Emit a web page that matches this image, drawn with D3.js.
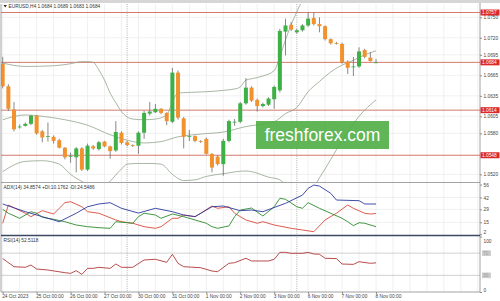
<!DOCTYPE html>
<html>
<head>
<meta charset="utf-8">
<script src="https://cdn.jsdelivr.net/npm/d3@7"></script>
<style>
  html, body { margin: 0; padding: 0; background: #fff; }
  svg { display: block; font-family: "Liberation Sans", Arial, sans-serif; }
</style>
</head>
<body>
<div id="chart"></div>
<script>
// EURUSD H4 candles, 24 Oct 00:00 .. 8 Nov 00:00
const candleOpen = [1.0682,1.0649,1.0615,1.0589,1.0591,1.0594,1.0606,1.0583,1.0575,1.0575,
  1.0570,1.0559,1.0546,1.0545,1.0558,1.0527,1.0561,1.0557,1.0568,1.0561,
  1.0555,1.0581,1.0567,1.0563,1.0562,1.0581,1.0609,1.0611,1.0616,1.0610,
  1.0597,1.0669,1.0602,1.0575,1.0576,1.0569,1.0572,1.0550,1.0546,1.0535,
  1.0569,1.0596,1.0597,1.0624,1.0647,1.0629,1.0620,1.0622,1.0630,1.0643,
  1.0729,1.0739,1.0728,1.0731,1.0738,1.0749,1.0740,1.0737,1.0718,1.0712,
  1.0711,1.0685,1.0677,1.0678,1.0702,1.0691,1.0684];
const candleHigh = [1.0692,1.0652,1.0626,1.0593,1.0596,1.0607,1.0607,1.0585,1.0596,1.0577,
  1.0572,1.0560,1.0552,1.0560,1.0560,1.0565,1.0563,1.0569,1.0569,1.0562,
  1.0598,1.0583,1.0569,1.0564,1.0583,1.0613,1.0626,1.0623,1.0617,1.0611,
  1.0676,1.0672,1.0604,1.0585,1.0577,1.0570,1.0574,1.0551,1.0548,1.0572,
  1.0600,1.0601,1.0626,1.0661,1.0649,1.0631,1.0625,1.0633,1.0650,1.0733,
  1.0748,1.0743,1.0733,1.0740,1.0757,1.0757,1.0750,1.0738,1.0719,1.0714,
  1.0713,1.0687,1.0692,1.0706,1.0704,1.0699,1.0689];
const candleLow = [1.0646,1.0613,1.0583,1.0587,1.0590,1.0592,1.0578,1.0567,1.0568,1.0565,
  1.0558,1.0542,1.0537,1.0523,1.0525,1.0525,1.0556,1.0555,1.0560,1.0543,
  1.0553,1.0564,1.0561,1.0560,1.0550,1.0572,1.0606,1.0610,1.0608,1.0592,
  1.0595,1.0600,1.0558,1.0569,1.0567,1.0566,1.0549,1.0523,1.0533,1.0518,
  1.0567,1.0591,1.0595,1.0622,1.0626,1.0612,1.0618,1.0620,1.0616,1.0640,
  1.0694,1.0730,1.0726,1.0729,1.0736,1.0738,1.0728,1.0716,1.0710,1.0710,
  1.0682,1.0667,1.0664,1.0676,1.0690,1.0685,1.0683];
const candleClose = [1.0649,1.0616,1.0586,1.0590,1.0594,1.0606,1.0580,1.0574,1.0576,1.0569,
  1.0559,1.0545,1.0547,1.0558,1.0527,1.0562,1.0558,1.0567,1.0561,1.0554,
  1.0582,1.0566,1.0563,1.0562,1.0581,1.0610,1.0612,1.0616,1.0610,1.0598,
  1.0669,1.0603,1.0575,1.0576,1.0569,1.0568,1.0550,1.0530,1.0535,1.0569,
  1.0598,1.0597,1.0624,1.0647,1.0628,1.0620,1.0623,1.0631,1.0648,1.0730,
  1.0738,1.0732,1.0731,1.0738,1.0748,1.0740,1.0737,1.0718,1.0712,1.0711,
  1.0684,1.0676,1.0678,1.0700,1.0692,1.0686,1.0684];

// Bollinger bands, read at [bar index, price]
const bbUpper = [[0,1.0683],[4,1.0678],[9,1.0679],[12,1.0682],[14,1.0685],[15,1.0685],[16,1.0684],
  [17,1.0673],[18,1.0658],[19,1.0639],[20,1.0625],[21,1.0612],[22,1.0604],[23,1.0601],[25,1.0600],
  [27,1.0601],[29,1.0607],[30,1.0626],[31,1.0639],[33,1.0640],[36,1.0641],[39,1.0643],[41,1.0645],
  [42,1.0648],[43,1.0658],[44,1.0660],[46,1.0664],[48,1.0672],[49,1.0692],[50,1.0717],[51,1.0739],
  [52,1.0758],[53,1.0775],[54,1.0787],[57,1.0793],[60,1.0790],[63,1.0784],[66,1.0778]];
const bbMiddle = [[0,1.0600],[4,1.0607],[7,1.0605],[11,1.0600],[15,1.0592],[19,1.0578],[22,1.0570],
  [25,1.0566],[28,1.0568],[31,1.0575],[35,1.0579],[39,1.0582],[43,1.0590],[48,1.0597],[50,1.0609],
  [52,1.0618],[54,1.0641],[56,1.0656],[58,1.0670],[60,1.0680],[62,1.0687],[64,1.0695],[66,1.0701]];
const bbLower = [[0,1.0524],[4,1.0539],[7,1.0540],[10,1.0535],[12,1.0520],[15,1.0505],[17,1.0495],
  [19,1.0510],[21,1.0528],[22,1.0535],[24,1.0536],[26,1.0536],[28,1.0535],[30,1.0520],[32,1.0511],
  [34,1.0512],[36,1.0517],[39,1.0521],[43,1.0525],[44,1.0524],[47,1.0516],[49,1.0512],[51,1.0496],
  [53,1.0480],[55,1.0500],[56,1.0515],[57,1.0528],[59,1.0556],[61,1.0582],[63,1.0605],[66,1.0629]];

// ADX(14) lines
const adxMain = [[0,34.9],[4,26.5],[7,21.1],[9,17.5],[10,15.6],[13,24.8],[15,31.9],[17,34.9],[19,36.3],
  [21,30.2],[24,25.0],[27,30.2],[30,26.5],[32,22.9],[34,21.1],[37,31.9],[39,32.7],[42,27.6],[44,28.3],
  [46,26.5],[50,35.6],[53,44.6],[54,51.9],[55,55.5],[56,54.4],[58,46.5],[59,39.2],[63,38.5],[64,34.9],[66,34.86]];
const plusDi = [[0,29.1],[1,24.8],[3,19.3],[5,26.5],[6,24.8],[7,20.4],[9,18.2],[11,15.6],[13,12.0],
  [15,10.2],[17,9.1],[19,8.4],[20,15.6],[22,14.5],[23,13.9],[24,21.1],[25,24.8],[27,22.9],[28,19.3],
  [30,24.0],[32,21.1],[34,17.5],[36,13.9],[37,10.2],[38,8.4],[40,11.0],[41,21.1],[42,28.3],[44,30.5],
  [46,21.8],[48,31.9],[49,41.1],[50,40.0],[52,31.9],[53,30.2],[54,36.3],[56,30.2],[58,24.8],[60,19.3],
  [61,15.6],[62,11.3],[63,14.5],[64,13.9],[66,10.18]];
const minusDi = [[0,13.9],[1,33.8],[4,24.8],[5,21.1],[7,27.6],[9,24.0],[10,30.2],[11,36.3],[12,37.4],
  [14,31.9],[15,26.5],[17,24.8],[20,17.5],[21,15.6],[23,13.9],[25,10.2],[27,8.4],[28,10.2],[30,19.3],
  [31,19.3],[32,22.9],[34,21.1],[35,24.8],[37,32.7],[38,30.2],[40,31.9],[41,24.8],[42,21.1],[43,17.5],
  [45,13.9],[46,15.6],[48,12.0],[51,8.4],[53,6.6],[55,4.7],[57,17.5],[59,24.8],[61,33.8],[62,30.2],
  [64,24.8],[65,24.0],[66,24.55]];

// RSI(14)
const rsiLine = [[0,60.2],[2,45.6],[4,44.5],[5,48.6],[6,41.4],[8,39.6],[11,34.8],[12,33.6],[13,38.4],
  [14,31.8],[15,42.6],[16,42.6],[17,44.5],[19,42.6],[20,50.4],[21,44.5],[23,44.5],[25,57.7],[27,58.9],
  [29,53.5],[30,67.9],[31,51.7],[32,45.6],[35,43.8],[37,37.8],[38,36.6],[40,51.7],[41,52.8],[43,60.7],
  [44,55.9],[47,55.9],[48,58.9],[49,71.5],[50,71.5],[51,69.7],[53,69.7],[54,71.5],[55,68.5],[56,68.0],
  [57,60.7],[59,60.2],[60,50.4],[62,49.8],[63,54.6],[65,51.7],[66,52.5]];

const priceTicks = [1.0750, 1.0720, 1.0695, 1.0665, 1.0635, 1.0605, 1.0580, 1.0520];
const priceLines = [1.0757, 1.0684, 1.0614, 1.0548];
const adxTicks = [56, 42, 29, 15, 2];
const rsiLevels = [70, 30];
const timeLabels = ["24 Oct 2023", "25 Oct 00:00", "26 Oct 00:00", "27 Oct 00:00", "30 Oct 00:00",
  "31 Oct 00:00", "1 Nov 00:00", "2 Nov 00:00", "3 Nov 00:00", "6 Nov 00:00", "7 Nov 00:00", "8 Nov 00:00"];
const timeLabelBars = [0, 6, 12, 18, 24, 30, 36, 42, 48, 54, 60, 66];
const separatorBars = [22, 52];

const W = 500, H = 301, plotR = 480;
const mainTop = 4, mainBot = 182.5;
const adxTop = 183, adxBot = 235.5;
const rsiTop = 236.5, rsiBot = 292;
const fs = 4.8;

const svg = d3.select("#chart").append("svg")
  .attr("width", W).attr("height", H);

svg.append("rect").attr("width", W).attr("height", H).attr("fill", "#fff");
svg.append("rect").attr("width", W).attr("height", 3).attr("fill", "#d6d6d6");

const x = d3.scaleLinear().domain([0, candleOpen.length - 1]).range([2.7, 376]);
const y = d3.scaleLinear().domain([1.0548, 1.0757]).range([155.25, 12.5]);
const yAdx = d3.scaleLinear().domain([2, 56]).range([234.2, 184.6]);
const yRsi = d3.scaleLinear().domain([0, 100]).range([rsiBot, rsiTop]);

const defs = svg.append("defs");
function clip(id, top, bot) {
  defs.append("clipPath").attr("id", id)
    .append("rect").attr("x", 1).attr("y", top).attr("width", plotR - 1).attr("height", bot - top);
  return "url(#" + id + ")";
}
const clipMain = clip("cMain", mainTop, mainBot);
const clipAdx = clip("cAdx", adxTop, adxBot);
const clipRsi = clip("cRsi", rsiTop, rsiBot);

// light grid
const grid = svg.append("g").attr("stroke", "#ececec").attr("stroke-width", 0.8);
d3.range(0, 85, 3).forEach(i => {
  if (x(i) < plotR) grid.append("line").attr("x1", x(i)).attr("x2", x(i)).attr("y1", mainTop).attr("y2", rsiBot);
});
priceTicks.forEach(p => grid.append("line").attr("x1", 1).attr("x2", plotR).attr("y1", y(p)).attr("y2", y(p)));
adxTicks.slice(1, 4).forEach(v => grid.append("line").attr("x1", 1).attr("x2", plotR).attr("y1", yAdx(v)).attr("y2", yAdx(v)));

// rsi levels
rsiLevels.forEach(v => svg.append("line")
  .attr("x1", 1).attr("x2", plotR).attr("y1", yRsi(v)).attr("y2", yRsi(v))
  .attr("stroke", "#c4c4c4").attr("stroke-width", 0.8));

// vertical dotted separators
separatorBars.forEach(i => svg.append("line")
  .attr("x1", x(i)).attr("x2", x(i)).attr("y1", mainTop).attr("y2", rsiBot)
  .attr("stroke", "#a0a0a0").attr("stroke-width", 0.8).attr("stroke-dasharray", "1,1.2"));

// horizontal price lines
priceLines.forEach(p => svg.append("line")
  .attr("x1", 1).attr("x2", plotR).attr("y1", y(p)).attr("y2", y(p))
  .attr("stroke", "#cf6b5e").attr("stroke-width", 0.9));

// bollinger bands
const bbLine = d3.line().x(d => x(d[0])).y(d => y(d[1])).curve(d3.curveMonotoneX);
const gMain = svg.append("g").attr("clip-path", clipMain);
[bbUpper, bbMiddle, bbLower].forEach(band => gMain.append("path")
  .attr("d", bbLine(band)).attr("fill", "none")
  .attr("stroke", "#92a48c").attr("stroke-width", 0.8));

// candles
const bars = d3.range(candleOpen.length);
gMain.append("g").selectAll("line").data(bars).join("line")
  .attr("x1", i => x(i)).attr("x2", i => x(i))
  .attr("y1", i => y(candleHigh[i])).attr("y2", i => y(candleLow[i]))
  .attr("stroke", "#6a6a6a").attr("stroke-width", 0.8);
gMain.append("g").selectAll("rect").data(bars).join("rect")
  .attr("x", i => x(i) - 2)
  .attr("y", i => y(Math.max(candleOpen[i], candleClose[i])))
  .attr("width", 4)
  .attr("height", i => Math.max(0.8, Math.abs(y(candleOpen[i]) - y(candleClose[i]))))
  .attr("fill", i => candleClose[i] >= candleOpen[i] ? "#3db046" : "#f2922f");

// watermark
const wm = svg.append("g").attr("transform", "translate(256,121)");
wm.append("rect").attr("width", 133).attr("height", 28).attr("fill", "#4fae45").attr("opacity", 0.9);
wm.append("text").attr("x", 66.5).attr("y", 20).attr("text-anchor", "middle")
  .attr("font-size", 17.5).attr("fill", "#fff").text("freshforex.com");

// ADX lines
const adxPath = d3.line().x(d => x(d[0])).y(d => yAdx(d[1]));
const gAdx = svg.append("g").attr("clip-path", clipAdx).attr("fill", "none").attr("stroke-width", 0.9);
gAdx.append("path").attr("d", adxPath(minusDi)).attr("stroke", "#d9493c");
gAdx.append("path").attr("d", adxPath(plusDi)).attr("stroke", "#2e8a2e");
gAdx.append("path").attr("d", adxPath(adxMain)).attr("stroke", "#2c3a9e");

// RSI line
const rsiPath = d3.line().x(d => x(d[0])).y(d => yRsi(d[1]));
svg.append("path").attr("clip-path", clipRsi)
  .attr("d", rsiPath(rsiLine)).attr("fill", "none")
  .attr("stroke", "#b03a3a").attr("stroke-width", 0.9);

// panel borders
const border = svg.append("g").attr("stroke", "#8c8c8c").attr("stroke-width", 0.8);
border.append("line").attr("x1", 1).attr("x2", 1).attr("y1", mainTop).attr("y2", rsiBot);
border.append("line").attr("x1", plotR).attr("x2", plotR).attr("y1", 3).attr("y2", rsiBot);
border.append("line").attr("x1", 1).attr("x2", plotR).attr("y1", mainBot).attr("y2", mainBot);
border.append("line").attr("x1", 1).attr("x2", plotR).attr("y1", rsiBot).attr("y2", rsiBot);
svg.append("line").attr("x1", 1).attr("x2", plotR).attr("y1", adxBot).attr("y2", adxBot)
  .attr("stroke", "#3d4866").attr("stroke-width", 1.4);

// right axes
function styleAxis(g) {
  g.select(".domain").remove();
  g.selectAll(".tick line").attr("stroke", "#8c8c8c");
  g.selectAll("text").attr("font-size", fs).attr("fill", "#444").attr("font-family", "Liberation Sans, Arial, sans-serif");
}
svg.append("g").attr("transform", `translate(${plotR},0)`)
  .call(d3.axisRight(y).tickValues(priceTicks).tickFormat(d3.format(".4f")).tickSize(2).tickPadding(1.5))
  .call(styleAxis);
svg.append("g").attr("transform", `translate(${plotR},0)`)
  .call(d3.axisRight(yAdx).tickValues(adxTicks).tickSize(2).tickPadding(1.5))
  .call(styleAxis)
  .call(g => g.selectAll(".tick text").attr("dy", d => d === 2 ? "-0.5" : "0.32em"));
svg.append("g").attr("transform", `translate(${plotR},0)`)
  .call(d3.axisRight(yRsi).tickValues([100, 0]).tickSize(2).tickPadding(1.5))
  .call(styleAxis)
  .call(g => g.selectAll(".tick text").attr("dy", d => d === 100 ? "1.2em" : "-0.3"));

// rsi level tags
rsiLevels.forEach(v => {
  svg.append("rect").attr("x", plotR + 2).attr("y", yRsi(v) - 2.8).attr("width", 9).attr("height", 5.6).attr("fill", "#cdcdcd");
  svg.append("text").attr("x", plotR + 3).attr("y", yRsi(v) + 1.7).attr("font-size", fs).attr("fill", "#9a9a9a").text(v);
});

// red price tags
priceLines.forEach(p => {
  svg.append("rect").attr("x", plotR + 0.5).attr("y", y(p) - 3).attr("width", 19).attr("height", 6).attr("fill", "#dc2a2a");
  svg.append("text").attr("x", plotR + 2).attr("y", y(p) + 1.8).attr("font-size", fs).attr("fill", "#fff")
    .text(d3.format(".4f")(p));
});

// time axis
svg.append("g").attr("transform", `translate(0,${rsiBot})`)
  .call(d3.axisBottom(x).tickValues(timeLabelBars).tickFormat((d, i) => timeLabels[i]).tickSize(2).tickPadding(1))
  .call(styleAxis)
  .call(g => g.selectAll(".tick text").attr("text-anchor", "start").attr("dx", "-1"));

// texts
svg.append("path").attr("d", "M3.5,5 L7,5 L5.25,7.5 Z").attr("fill", "#333");
svg.append("text").attr("x", 8.5).attr("y", 8).attr("font-size", fs).attr("fill", "#333")
  .text("EURUSD,H4  1.0684 1.0689 1.0683 1.0684");
svg.append("text").attr("x", 3.5).attr("y", 188.5).attr("font-size", fs).attr("fill", "#333")
  .text("ADX(14) 34.8574 +DI:10.1762 -DI:24.5486");
svg.append("text").attr("x", 3.5).attr("y", 241.8).attr("font-size", fs).attr("fill", "#333")
  .text("RSI(14) 52.5118");
</script>
</body>
</html>
